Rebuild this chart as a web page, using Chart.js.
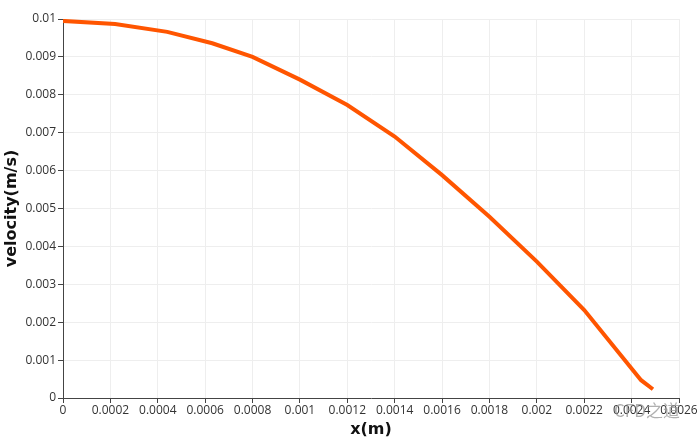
<!DOCTYPE html>
<html>
<head>
<meta charset="utf-8">
<script src="https://cdn.jsdelivr.net/npm/chart.js@4"></script>
<style>
  html, body { margin: 0; padding: 0; background: #fff; }
  #wrap { position: relative; width: 698px; height: 443px; }
  #mark { position: absolute; left: 614px; top: 397px; font: 17px "Noto Sans CJK SC", sans-serif; color: rgba(150,150,150,0.75); }
</style>
</head>
<body>
<div id="wrap">
  <canvas id="velChart" width="698" height="443"></canvas>
  <div id="mark">CFD之道</div>
</div>
<script>
// profile data
const xPos = [0, 0.00022, 0.00044, 0.00063, 0.0008, 0.001, 0.0012, 0.0014, 0.0016, 0.0018, 0.002, 0.0022, 0.00244, 0.00249];
const velocity = [0.00995, 0.00987, 0.00966, 0.00936, 0.0090, 0.0084, 0.00773, 0.0069, 0.00588, 0.00478, 0.0036, 0.00232, 0.00047, 0.00023];

const tickFont = { family: "'Open Sans', sans-serif", size: 12 };
const titleFont = { family: "'DejaVu Sans', sans-serif", size: 16, weight: "bold" };

new Chart(document.getElementById("velChart"), {
    type: "line",
    data: {
        datasets: [{
            data: xPos.map((x, i) => ({ x: x, y: velocity[i] })),
            borderColor: "#ff5500",
            borderWidth: 4,
            pointRadius: 0,
            tension: 0,
            fill: false
        }]
    },
    options: {
        responsive: false,
        animation: false,
        layout: { padding: { top: 19, right: 19, left: 0, bottom: 0 } },
        plugins: {
            legend: { display: false },
            tooltip: { enabled: false }
        },
        scales: {
            x: {
                type: "linear",
                min: 0,
                max: 0.0026,
                afterFit: s => { s.height = 45; },
                ticks: {
                    stepSize: 0.0002,
                    color: "#333",
                    font: tickFont,
                    padding: 0,
                    maxRotation: 0,
                    callback: v => +v.toFixed(4) + ""
                },
                grid: { color: "#eeeeee", tickColor: "#444", tickLength: 5 },
                border: { display: true, color: "#444", width: 1 },
                title: { display: true, text: "x(m)", color: "#111", font: titleFont, padding: { top: 2 } }
            },
            y: {
                min: 0,
                max: 0.01,
                afterFit: s => { s.width = 63; },
                ticks: {
                    stepSize: 0.001,
                    color: "#333",
                    font: tickFont,
                    padding: 2,
                    callback: v => +v.toFixed(3) + ""
                },
                grid: { color: "#eeeeee", tickColor: "#444", tickLength: 5 },
                border: { display: true, color: "#444", width: 1 },
                title: { display: true, text: "velocity(m/s)", color: "#111", font: titleFont, padding: { bottom: 0, top: 2 } }
            }
        }
    }
});
</script>
</body>
</html>
